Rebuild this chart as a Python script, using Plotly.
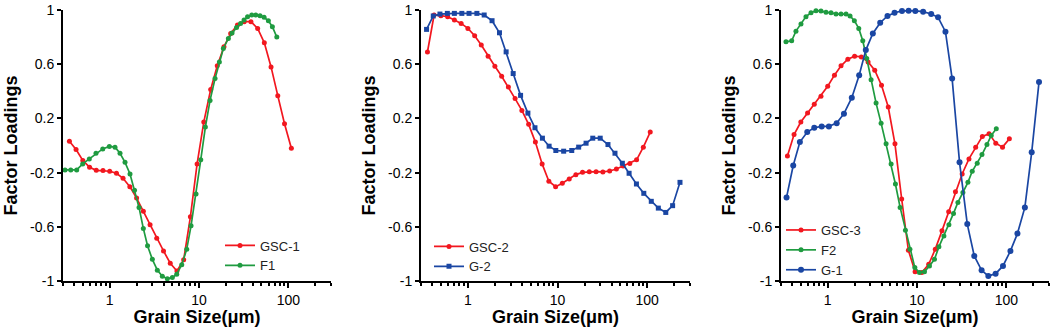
import plotly.graph_objects as go

# ---------------- data ----------------
gsc_size = [0.354, 0.420, 0.500, 0.595, 0.707, 0.841, 1.00, 1.19, 1.41, 1.68, 2.00, 2.38,
            2.83, 3.36, 4.00, 4.76, 5.66, 6.73, 8.00, 9.51, 11.3, 13.5, 16.0, 19.0, 22.6,
            26.9, 32.0, 38.1, 45.3, 53.8, 64.0, 76.1, 90.5, 108]

gsc1 = [0.032, -0.03, -0.111, -0.16, -0.183, -0.185, -0.19, -0.205, -0.242, -0.304,
        -0.388, -0.486, -0.585, -0.684, -0.778, -0.869, -0.926, -0.844, -0.526, -0.136,
        0.173, 0.413, 0.588, 0.728, 0.827, 0.889, 0.914, 0.914, 0.864, 0.758,
        0.58, 0.368, 0.16, -0.02]

gsc2 = [0.69, 0.963, 0.958, 0.95, 0.926, 0.901, 0.864, 0.81, 0.741, 0.659,
        0.585, 0.511, 0.432, 0.346, 0.259, 0.156, 0.025, -0.136, -0.264, -0.304,
        -0.279, -0.247, -0.215, -0.198, -0.193, -0.193, -0.195, -0.188, -0.173, -0.151,
        -0.133, -0.106, -0.012, 0.099]

gsc3 = [-0.077, 0.081, 0.173, 0.239, 0.304, 0.363, 0.437, 0.519, 0.588, 0.637,
        0.659, 0.654, 0.617, 0.556, 0.444, 0.284, 0.012, -0.395, -0.773, -0.931,
        -0.938, -0.877, -0.765, -0.63, -0.489, -0.341, -0.21, -0.099, -0.012, 0.067,
        0.086, 0.017, -0.012, 0.049]

f1_size = [0.316, 0.366, 0.427, 0.498, 0.591, 0.702, 0.835, 0.99, 1.146, 1.304, 1.484,
           1.688, 1.895, 2.129, 2.378, 2.651, 3.0, 3.412, 3.882, 4.416, 5.024, 5.627,
           6.403, 7.283, 8.136, 9.256, 10.45, 11.77, 13.28, 15.11, 16.88, 18.71, 21.29,
           23.42, 26.3, 29.15, 31.9, 34.92, 38.92, 43.14, 48.2, 53.45, 59.7, 66.2, 74.2]

f1 = [-0.18, -0.18, -0.18, -0.136, -0.1, -0.057, -0.025, -0.007, -0.012, -0.057,
      -0.124, -0.21, -0.33, -0.457, -0.612, -0.74, -0.84, -0.92, -0.965, -0.983,
      -0.975, -0.95, -0.88, -0.765, -0.593, -0.358, -0.106, 0.136, 0.333, 0.494,
      0.617, 0.716, 0.79, 0.83, 0.87, 0.9, 0.926, 0.95, 0.963, 0.963,
      0.958, 0.946, 0.92, 0.877, 0.80]

f2_size = [0.341, 0.395, 0.441, 0.502, 0.571, 0.65, 0.739, 0.841, 0.957, 1.089, 1.239,
           1.41, 1.604, 1.778, 1.987, 2.226, 2.469, 2.736, 3.058, 3.479, 3.958, 4.504,
           5.124, 5.725, 6.464, 7.413, 8.325, 9.447, 10.64, 12.11, 13.77, 15.67, 17.56,
           19.97, 22.73, 25.59, 28.68, 32.62, 37.11, 41.47, 47.19, 53.3, 60.6, 67.7, 77.1]

f2 = [0.765, 0.773, 0.844, 0.896, 0.951, 0.98, 0.995, 0.993, 0.983, 0.98,
      0.97, 0.97, 0.97, 0.956, 0.921, 0.864, 0.773, 0.642, 0.486, 0.313,
      0.165, 0.012, -0.136, -0.284, -0.457, -0.625, -0.765, -0.901, -0.938, -0.931,
      -0.889, -0.84, -0.748, -0.667, -0.585, -0.501, -0.42, -0.346, -0.272, -0.19,
      -0.131, -0.067, 0.007, 0.074, 0.124]

g_size = [0.346, 0.411, 0.488, 0.59, 0.707, 0.856, 1.03, 1.26, 1.52, 1.86, 2.25, 2.67,
          3.20, 3.87, 4.67, 5.60, 6.78, 8.05, 9.57, 11.7, 14.4, 17.2, 20.8, 24.7, 29.9,
          36.5, 43.7, 52.8, 62.8, 75.8, 91.6, 111, 133, 161, 192, 232]

g2 = [0.857, 0.956, 0.97, 0.975, 0.975, 0.975, 0.975, 0.975, 0.963, 0.921,
      0.832, 0.691, 0.531, 0.37, 0.239, 0.131, 0.054, -0.005, -0.037, -0.042,
      -0.037, -0.012, 0.017, 0.054, 0.054, 0.007, -0.057, -0.131, -0.205, -0.284,
      -0.353, -0.412, -0.462, -0.494, -0.444, -0.272]

g1 = [-0.383, -0.148, 0.025, 0.099, 0.131, 0.141, 0.141, 0.165, 0.235, 0.353,
      0.519, 0.704, 0.827, 0.906, 0.956, 0.98, 0.993, 0.995, 0.993, 0.988,
      0.97, 0.946, 0.84, 0.494, -0.124, -0.58, -0.815, -0.921, -0.963, -0.946,
      -0.889, -0.778, -0.65, -0.457, -0.05, 0.469]

y_ticks = [-1, -0.6, -0.2, 0.2, 0.6, 1]
y_labels = ["-1", "-0.6", "-0.2", "0.2", "0.6", "1"]
x_major = [1, 10, 100]
x_major_labels = ["1", "10", "100"]
x_minor = [0.3, 0.4, 0.5, 0.6, 0.7, 0.8, 0.9, 2, 3, 4, 5, 6, 7, 8, 9,
           20, 30, 40, 50, 60, 70, 80, 90, 200, 300]

# ---------------- style ----------------
RED = "#f2171f"
GREEN = "#1f9b40"
BLUE = "#1a46a3"
FONT = "Arial, Liberation Sans, sans-serif"
W, H = 1052, 327

fig = go.Figure()


def add(x, y, name, color, xa, ya, legend, symbol="circle", size=5):
    fig.add_trace(go.Scatter(
        x=x, y=y, name=name, mode="lines+markers",
        line=dict(color=color, width=1.7),
        marker=dict(color=color, size=size, symbol=symbol, line=dict(width=0)),
        xaxis=xa, yaxis=ya, legend=legend, cliponaxis=False))


add(gsc_size, gsc1, "GSC-1", RED, "x", "y", "legend")
add(f1_size, f1, "F1", GREEN, "x", "y", "legend")
add(gsc_size, gsc2, "GSC-2", RED, "x2", "y2", "legend2")
add(g_size, g2, "G-2", BLUE, "x2", "y2", "legend2", symbol="square", size=5)
add(gsc_size, gsc3, "GSC-3", RED, "x3", "y3", "legend3")
add(f2_size, f2, "F2", GREEN, "x3", "y3", "legend3")
add(g_size, g1, "G-1", BLUE, "x3", "y3", "legend3", size=6)

x_domains = [(63, 331), (421, 690), (781, 1049)]
y_dom = [(H - 281) / H, (H - 10) / H]

axis_font = dict(family=FONT, size=14, color="black")
title_font = dict(family=FONT, size=18, color="black")

layout = dict(
    width=W, height=H,
    margin=dict(l=0, r=0, t=0, b=0, autoexpand=False),
    paper_bgcolor="white", plot_bgcolor="white",
    font=dict(family=FONT),
)

for i, (a, b) in enumerate(x_domains):
    sfx = "" if i == 0 else str(i + 1)
    layout["xaxis" + sfx] = dict(
        type="log", range=[-0.5229, 2.4771], domain=[a / W, b / W],
        anchor="y" + sfx, showline=True, linecolor="black", linewidth=2,
        showgrid=False, zeroline=False, automargin=False,
        tickmode="array", tickvals=x_major, ticktext=x_major_labels,
        ticks="outside", ticklen=5, tickwidth=1.5, tickcolor="black",
        tickfont=axis_font,
        minor=dict(tickmode="array", tickvals=x_minor, ticks="outside", ticklen=3,
                   tickwidth=1.5, tickcolor="black", showgrid=False),
        title=dict(text="<b>Grain Size(μm)</b>", font=title_font, standoff=2),
    )
    layout["yaxis" + sfx] = dict(
        range=[-1, 1], domain=y_dom, anchor="x" + sfx,
        showline=True, linecolor="black", linewidth=2,
        showgrid=False, zeroline=False, automargin=False,
        tickmode="array", tickvals=y_ticks, ticktext=y_labels,
        ticks="outside", ticklen=4, tickwidth=1.5, tickcolor="black",
        tickfont=axis_font,
        title=dict(text="<b>Factor Loadings</b>", font=title_font, standoff=8),
    )

leg_common = dict(bgcolor="rgba(0,0,0,0)", borderwidth=0, xanchor="left", yanchor="top",
                  font=dict(family=FONT, size=13, color="#222"), tracegroupgap=0,
                  itemwidth=30)
layout["legend"] = dict(leg_common, x=220 / W, y=(H - 230.5) / H)
layout["legend2"] = dict(leg_common, x=429 / W, y=(H - 231.5) / H)
layout["legend3"] = dict(leg_common, x=781 / W, y=(H - 215) / H)

fig.update_layout(**layout)
fig.write_html("out.html", config={"displayModeBar": False},
               post_script="document.body.style.margin='0';")
